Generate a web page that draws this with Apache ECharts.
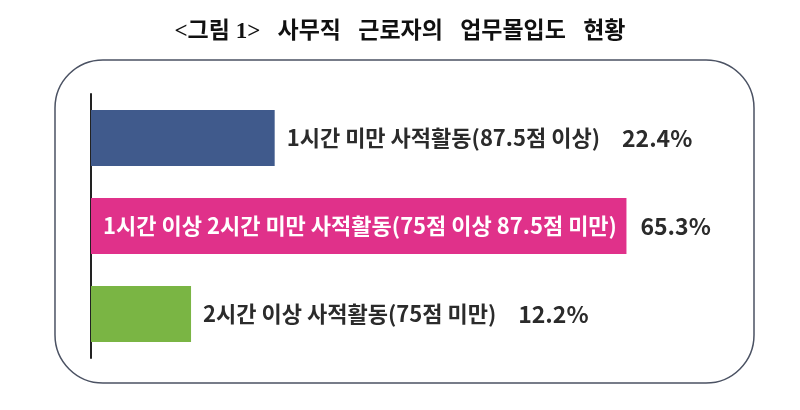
<!DOCTYPE html>
<html>
<head>
<meta charset="utf-8">
<title>사무직 근로자의 업무몰입도 현황</title>
<script src="https://cdn.jsdelivr.net/npm/echarts@6/dist/echarts.min.js"></script>
<style>
    html, body { margin: 0; padding: 0; background: #fff; }
    #chart { width: 800px; height: 410px; }
</style>
</head>
<body>
<div id="chart"></div>
<script>
// 데이터
const categories = [
    '1시간 미만 사적활동(87.5점 이상)',
    '1시간 이상 2시간 미만 사적활동(75점 이상 87.5점 미만)',
    '2시간 이상 사적활동(75점 미만)'
];
const shares = [22.4, 65.3, 12.2];

// 스타일
const palette = ['#405a8c', '#e0318a', '#7ab544'];
const labelFont = "'Noto Sans CJK KR', 'Noto Sans', sans-serif";

const chart = echarts.init(document.getElementById('chart'));

// 막대가 길면 항목명은 막대 안에 흰 글씨로
const isInside = v => v > 50;

chart.setOption({
    animation: false,
    title: {
        text: '<그림 1>   사무직   근로자의   업무몰입도   현황',
        left: 'center',
        top: 16,
        textStyle: {
            fontFamily: "'Liberation Serif', 'Noto Sans CJK KR', serif",
            fontWeight: 'bold',
            fontSize: 23,
            color: '#111'
        }
    },
    graphic: [{
        type: 'rect',
        shape: { x: 55, y: 60, width: 699, height: 323, r: 48 },
        style: { fill: 'none', stroke: '#4b5263', lineWidth: 1.5 },
        silent: true
    }],
    grid: { left: 91, top: 94, width: 656, height: 264 },
    xAxis: { type: 'value', min: 0, max: 80, show: false },
    yAxis: {
        type: 'category',
        data: categories,
        inverse: true,
        axisLine: { show: true, lineStyle: { color: '#222', width: 2 } },
        axisTick: { show: false },
        axisLabel: { show: false },
        splitLine: { show: false }
    },
    series: [
        {
            type: 'bar',
            barWidth: 56,
            barGap: '-100%',
            data: shares.map((v, i) => ({
                value: v,
                itemStyle: { color: palette[i] },
                label: isInside(v)
                    ? { show: true, position: 'insideLeft', distance: 12, color: '#fff', formatter: categories[i] }
                    : { show: false }
            })),
            label: {
                fontFamily: labelFont,
                fontWeight: 'bold',
                fontSize: 22
            }
        },
        {
            // 오른쪽 라벨용 투명 막대
            type: 'bar',
            barWidth: 56,
            barGap: '-100%',
            silent: true,
            itemStyle: { color: 'transparent' },
            data: shares,
            label: {
                show: true,
                position: 'right',
                distance: 12,
                fontFamily: labelFont,
                fontWeight: 'bold',
                fontSize: 23,
                color: '#2b2b2b',
                formatter: p => isInside(p.value)
                    ? '{v0|' + p.value.toFixed(1) + '%}'
                    : '{n|' + p.name + '}{v|' + p.value.toFixed(1) + '%}',
                rich: {
                    n: { fontFamily: labelFont, fontWeight: 'bold', fontSize: 22, color: '#2b2b2b' },
                    v: { fontFamily: labelFont, fontWeight: 'bold', fontSize: 23, color: '#2b2b2b', padding: [0, 0, 0, 22] },
                    v0: { fontFamily: labelFont, fontWeight: 'bold', fontSize: 23, color: '#2b2b2b', padding: [0, 0, 0, 2] }
                }
            }
        }
    ]
});
</script>
</body>
</html>
